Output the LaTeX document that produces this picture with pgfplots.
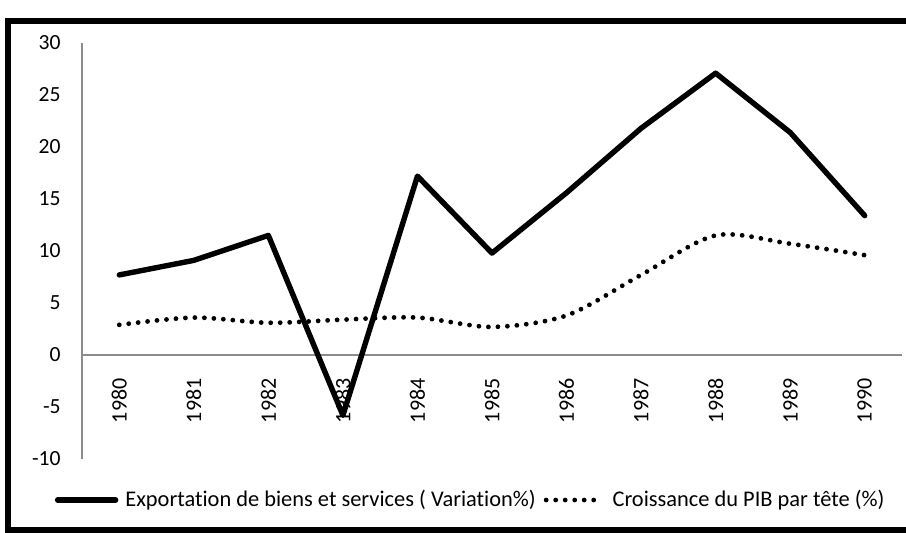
\documentclass[border=0pt]{standalone}
\usepackage{fontspec}
\setmainfont{Carlito}[Ligatures=NoCommon]
\usepackage{pgfplots}
\pgfplotsset{compat=1.18}
\pgfplotsset{
  solidleg/.style={legend image code/.code={\draw[##1] (0pt,0pt) -- (29pt,0pt);}},
  dotleg/.style={legend image code/.code={\draw[##1] (2pt,0pt) -- (27pt,0pt);}},
}
\begin{document}
\begin{tikzpicture}
\useasboundingbox (0,0) rectangle (453pt,266pt);
\fill[white] (0,0) rectangle (453pt,266pt);
% outer frame
\draw[line width=3pt, line cap=rect] (460pt,255.75pt) -- (3.75pt,255.75pt) -- (3.75pt,1.25pt) -- (460pt,1.25pt);
\begin{axis}[
  at={(41pt,36.5pt)}, anchor=south west,
  scale only axis, width=410pt, height=208pt,
  xmin=1979.5, xmax=1990.5, ymin=-10, ymax=30,
  axis y line=left, axis x line=middle,
  axis line style={black!45, line width=0.7pt, -},
  xtick={1980,...,1990}, ytick={-10,-5,...,30},
  major tick length=0pt,
  /pgf/number format/assume math mode=true,
  /pgf/number format/.cd, 1000 sep={}, /pgfplots/.cd,
  tick label style={font=\fontsize{10.8}{13}\selectfont, text=black},
  xticklabel style={rotate=90, anchor=east, inner sep=0pt, xshift=-11.5pt, font=\fontsize{11}{13}\selectfont},
  yticklabel style={anchor=east, inner sep=0pt, xshift=-10.5pt},
  legend columns=2,
  legend style={at={(0.474,-0.0986)}, anchor=center, draw=none, fill=none,
    font=\fontsize{11.2}{13}\selectfont, inner sep=0pt,
    nodes={inner sep=1pt},
    /tikz/every odd column/.append style={column sep=2.5pt},
    /tikz/every even column/.append style={column sep=3pt}},
  clip=false,
]
\addplot[black, line width=2.7pt, line join=round, line cap=round, solidleg]
  coordinates {(1980,7.7) (1981,9.1) (1982,11.5) (1983,-5.8) (1984,17.2) (1985,9.8) (1986,15.6) (1987,21.8) (1988,27.1) (1989,21.4) (1990,13.4)};
\addlegendentry{Exportation de biens et services ( Variation\%)}
\addplot[black, line width=2.4pt, line cap=round, dash pattern=on 0pt off 4.75pt, smooth, tension=0.5, dotleg]
  coordinates {(1980,2.9) (1981,3.6) (1982,3.1) (1983,3.4) (1984,3.6) (1985,2.7) (1986,3.8) (1987,7.7) (1988,11.5) (1989,10.7) (1990,9.6)};
\addlegendentry{\hspace{3.5pt}Croissance du PIB par tête (\%)}
\end{axis}
\end{tikzpicture}
\end{document}
